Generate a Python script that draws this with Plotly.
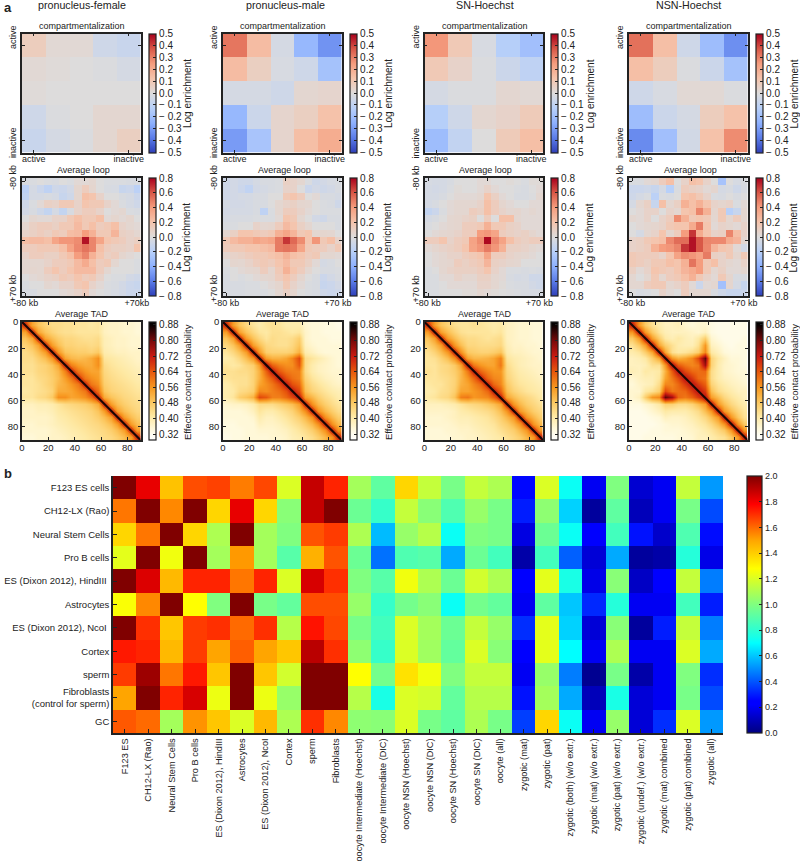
import plotly.graph_objects as go

PANEL_TITLES = ["pronucleus-female", "pronucleus-male", "SN-Hoechst", "NSN-Hoechst"]

COMP_FEMALE = [[.08,.02,.02,-.05,-.07],[.02,.01,0,-.01,-.03],[.01,0,0,0,0],[-.05,-.01,0,.03,.03],[-.07,-.03,-.01,.03,.07]]
COMP_MALE = [[.32,.15,-.03,-.22,-.32],[.15,.07,-.02,-.05,-.18],[-.03,-.03,-.05,.03,.04],[-.22,-.06,.04,.07,.13],[-.30,-.17,.04,.14,.20]]
COMP_SN = [[.26,.10,-.02,-.13,-.19],[.10,.05,-.01,-.06,-.10],[-.03,-.01,-.01,.03,.02],[-.13,-.05,.03,.05,.09],[-.20,-.09,0,.09,.14]]
COMP_NSN = [[.33,.14,-.05,-.2,-.33],[.14,.08,-.01,-.06,-.18],[-.05,-.02,.02,.02,-.01],[-.2,-.06,-.03,.08,.13],[-.34,-.19,-.04,.13,.28]]

LOOP_FEMALE = [
[-.03,-.02,0,-.02,-.03,0,-.02,.03,.03,.05,0,-.02,-.02,-.02,-.03,-.03],
[-.18,-.05,-.1,-.16,-.08,-.1,-.06,.06,.13,.06,0,-.03,-.04,-.12,-.1,-.18],
[-.15,-.05,-.05,-.03,-.05,-.12,-.08,.06,.22,.19,.08,0,0,-.03,-.05,-.1],
[-.08,-.02,.03,.1,.08,.16,.16,.08,.19,.16,.16,.08,.03,-.02,-.05,-.08],
[-.06,-.03,-.08,-.14,-.05,-.14,-.03,.08,.13,.13,.08,0,.03,.05,-.02,-.03],
[0,.05,.03,.03,.08,.08,.16,.22,.16,.16,.22,.03,.06,.03,.06,0],
[.05,.1,.13,.13,.1,.16,.16,.25,.16,.22,.13,.16,.22,.08,.05,.03],
[.08,.1,.13,.1,.16,.13,.23,.25,.4,.3,.16,.16,.28,.1,.08,.05],
[.23,.25,.25,.22,.36,.42,.42,.45,.76,.47,.36,.19,.16,.13,.08,.11],
[.13,.13,.16,.16,.16,.22,.37,.46,.52,.47,.22,.13,.1,.1,.08,.19],
[.08,.13,.13,.1,.1,.16,.22,.4,.47,.3,.19,.1,.13,.06,.03,0],
[.05,.05,.05,.08,.13,.13,.16,.25,.33,.22,.13,.16,.05,0,0,-.02],
[.05,.06,.05,.13,.19,.13,.19,.25,.25,.25,.13,.05,0,0,0,-.02],
[0,.03,.05,.08,.1,.16,.13,.19,.13,.16,.08,0,-.02,-.02,-.06,-.08],
[-.02,0,0,.05,.03,.08,.08,.16,.19,.08,.03,-.02,-.03,-.06,-.1,-.12],
[-.03,-.03,0,0,0,.03,.05,.08,.13,.03,0,-.02,-.04,-.06,-.1,-.1]]
LOOP_MALE = [
[-.08,-.06,-.08,-.08,-.05,-.03,-.03,-.02,.1,.08,.05,-.02,-.08,-.06,-.04,-.03],
[-.08,-.06,-.1,-.15,-.06,-.05,-.03,-.02,.08,.08,0,-.1,-.06,-.08,-.06,-.03],
[-.08,-.06,-.05,-.05,-.03,-.03,0,0,.16,.19,.13,0,.03,-.03,-.03,-.05],
[-.05,-.06,-.06,-.05,-.03,-.03,0,.05,.08,.1,.06,.05,0,-.02,-.03,-.08],
[-.06,-.05,-.05,-.05,-.03,-.16,-.02,.05,.13,.13,.08,.03,0,-.02,-.02,-.02],
[-.05,-.03,-.03,-.03,-.02,-.02,-.02,.03,.19,.16,.05,0,-.06,-.08,-.03,-.03],
[-.03,-.02,0,0,.08,.05,.06,.13,.25,.19,.1,.05,0,0,0,-.03],
[.05,.1,.19,.19,.16,.13,.16,.3,.36,.28,.16,.19,.05,.06,.05,0],
[.16,.25,.3,.3,.36,.33,.36,.5,.68,.55,.45,.19,.42,.16,.22,.08],
[.13,.16,.16,.19,.19,.22,.25,.5,.52,.5,.36,.16,.13,.13,.08,.16],
[.05,.08,.1,.13,.16,.16,.19,.22,.3,.22,.19,.13,.16,.05,.05,.03],
[0,.06,.05,.08,.13,.16,.13,.19,.25,.16,.16,.1,.03,-.05,-.03,0],
[-.02,0,.03,.05,.06,.13,.06,.16,.3,.19,.13,.05,0,-.03,-.03,-.02],
[-.03,0,-.02,0,.03,.05,.06,.13,.19,.13,.06,0,-.03,-.1,-.06,-.03],
[-.03,-.03,-.03,-.02,-.02,0,.03,.06,.16,.08,.03,-.02,-.03,-.12,-.1,-.06],
[-.03,-.03,-.03,-.02,-.02,-.02,0,.05,.1,.06,0,-.02,-.03,-.08,-.1,-.08]]
LOOP_SN = [
[-.04,-.05,-.05,-.03,0,0,0,.03,.03,0,0,.02,0,-.02,.02,.02],
[-.05,-.06,-.05,-.02,.02,0,0,.03,.08,.03,0,0,-.02,-.03,0,.03],
[-.05,-.05,-.03,0,.03,.03,.03,.05,.19,.1,.03,0,-.03,-.03,-.01,.05],
[-.05,-.03,0,.03,.05,.05,.05,.08,.22,.13,.06,.03,0,0,.03,.03],
[-.14,-.1,-.02,.03,.05,.05,.13,.1,.22,.13,.08,.05,.06,.03,.05,.03],
[-.05,-.03,0,.05,.06,.08,.1,0,.13,0,.22,.22,.05,.03,.03,.03],
[-.02,0,.03,.05,.06,.13,.13,.16,.3,.16,.16,.1,.08,.03,.03,.03],
[0,.03,.05,.06,.08,.13,.13,.4,.42,.36,.13,.1,.08,.1,.06,.03],
[.13,.13,.19,.08,.13,.16,.37,.45,.78,.46,.37,.22,.13,.1,.13,.13],
[.03,.06,.08,.1,.13,.19,.36,.42,.5,.42,.3,.1,.1,.08,.05,.03],
[0,.03,.05,.08,.08,.13,.16,.19,.36,.13,.13,.08,.06,.05,.03,0],
[0,.03,.05,.06,.13,.1,.13,.16,.28,.1,.08,.06,.05,0,0,0],
[-.02,0,.05,.08,.1,.1,.1,.13,.19,.08,.03,-.02,-.02,-.03,-.02,-.03],
[-.02,-.02,.03,.03,.08,.05,.05,.1,.1,.05,.03,-.03,-.05,-.04,-.08,-.08],
[-.02,-.02,0,.03,.03,.03,.03,.08,.08,.05,.02,-.02,-.03,-.03,-.06,-.08],
[-.02,-.02,0,0,0,.02,.02,.05,.03,.02,0,-.01,-.02,-.03,-.04,-.04]]
LOOP_NSN = [
[-.02,-.02,.03,.05,.13,.22,0,.08,.22,.19,.08,0,-.28,0,-.04,-.02],
[-.1,-.1,-.08,-.12,-.05,-.2,-.02,.13,.1,.08,.03,.06,-.05,-.03,-.08,-.03],
[-.08,-.05,-.02,-.18,-.02,-.03,0,.19,.22,.16,.08,-.02,-.03,0,-.03,0],
[-.05,.05,.1,-.12,.22,.05,.1,.3,.22,.3,.19,.08,.06,.08,-.02,.03],
[0,.03,.08,.08,0,.08,.05,.19,.22,.47,.3,.06,.16,-.2,-.12,.05],
[.05,.03,.08,0,.08,.13,.45,.3,.16,.19,.16,.05,.16,.05,.13,.05],
[0,.03,.05,.06,.08,.16,.19,.19,.33,.5,.19,.03,.08,.06,.03,.08],
[0,-.05,.05,.08,.19,.06,.13,.4,.68,.33,.19,.08,.1,.47,.23,.08],
[.08,.1,.16,.19,.22,.46,.54,.54,.76,.6,.47,.46,.46,.33,.28,.05],
[.08,.1,.13,.3,.4,.42,.47,.68,.76,.6,.46,.28,.19,.16,.03,-.06],
[.16,.13,.13,.13,.08,.19,.37,.45,.42,.37,.5,.1,.08,.16,.06,.16],
[.16,.13,.1,.16,.16,.22,.19,.3,.52,.4,.16,.22,.08,.05,.03,.08],
[.1,.03,.08,.19,.16,.13,.19,.28,.33,.4,.16,.05,.1,.03,.03,.05],
[.05,0,.05,.16,.05,.13,.16,.22,.3,.16,.08,.03,.16,.06,-.03,-.03],
[.05,.05,.13,.16,.16,.05,.08,.13,.03,-.1,.03,.05,-.3,.06,-.05,-.12],
[0,-.03,-.02,0,.08,.03,0,.13,.05,.05,.05,-.03,-.08,-.12,-.12,-.1]]

TAD_BINS = [2.5,7.5,12.5,17.5,22.5,27.5,32.5,37.5,42.5,47.5,52.5,57.5,62.5,67.5,72.5,77.5,82.5,87.5]
DIAGONAL = [0, 90]
# upper triangles of the symmetric average-TAD maps, read per 5-unit block
TAD_FEMALE = [
[.66,.54,.49,.46,.44,.44,.43,.43,.42,.42,.41,.42,.38,.37,.37,.36,.36,.35],
[.66,.54,.49,.46,.44,.43,.43,.42,.42,.42,.42,.38,.37,.37,.36,.36,.35],
[.66,.54,.50,.47,.45,.45,.44,.43,.43,.44,.39,.38,.37,.37,.36,.36],
[.66,.55,.50,.46,.46,.45,.45,.44,.45,.39,.38,.37,.37,.36,.36],
[.66,.56,.49,.48,.47,.47,.46,.48,.40,.39,.38,.38,.37,.37],
[.66,.54,.51,.50,.51,.53,.57,.42,.41,.40,.39,.38,.37],
[.68,.59,.55,.53,.53,.57,.44,.42,.41,.40,.39,.38],
[.68,.60,.56,.54,.54,.45,.43,.42,.41,.40,.39],
[.68,.60,.57,.55,.46,.44,.43,.42,.41,.40],
[.68,.60,.57,.47,.45,.44,.43,.42,.41],
[.68,.61,.49,.46,.45,.44,.43,.42],
[.68,.53,.49,.47,.45,.44,.43],
[.66,.55,.50,.47,.45,.44],
[.66,.55,.50,.47,.45],
[.66,.55,.50,.47],
[.66,.55,.50],
[.66,.55],
[.68]]
TAD_MALE = [
[.68,.55,.49,.45,.42,.40,.42,.43,.42,.40,.40,.40,.36,.35,.35,.34,.34,.33],
[.68,.55,.49,.45,.42,.41,.43,.43,.42,.41,.42,.37,.35,.35,.34,.34,.34],
[.68,.55,.49,.45,.42,.44,.43,.43,.44,.47,.37,.35,.35,.35,.34,.34],
[.68,.55,.50,.45,.44,.43,.43,.45,.49,.38,.36,.35,.35,.35,.35],
[.68,.56,.47,.46,.46,.46,.47,.52,.40,.38,.36,.35,.35,.35],
[.68,.55,.52,.52,.54,.58,.66,.44,.42,.40,.38,.36,.35],
[.72,.63,.59,.57,.57,.64,.44,.40,.38,.37,.36,.35],
[.72,.64,.60,.59,.59,.44,.40,.38,.37,.36,.36],
[.72,.65,.61,.59,.46,.42,.40,.38,.37,.36],
[.72,.65,.62,.48,.44,.42,.40,.38,.37],
[.72,.66,.50,.46,.44,.42,.40,.39],
[.72,.55,.51,.47,.44,.42,.40],
[.68,.57,.51,.47,.44,.42],
[.68,.57,.51,.47,.44],
[.68,.57,.51,.47],
[.68,.57,.51],
[.68,.57],
[.68]]
TAD_SN = [
[.67,.55,.49,.46,.43,.42,.42,.43,.42,.41,.40,.41,.38,.37,.36,.36,.35,.35],
[.67,.55,.50,.46,.43,.42,.42,.42,.42,.41,.42,.38,.37,.36,.36,.35,.35],
[.67,.55,.50,.46,.44,.44,.43,.42,.43,.44,.38,.37,.36,.36,.35,.35],
[.67,.56,.50,.45,.45,.44,.44,.44,.45,.39,.37,.37,.36,.36,.35],
[.67,.57,.48,.47,.46,.46,.47,.49,.40,.38,.38,.37,.36,.36],
[.67,.54,.51,.51,.52,.54,.59,.42,.40,.39,.38,.37,.36],
[.70,.60,.56,.54,.54,.60,.44,.41,.39,.38,.37,.37],
[.70,.62,.58,.56,.56,.45,.42,.40,.39,.38,.37],
[.70,.62,.58,.57,.46,.43,.41,.40,.39,.38],
[.70,.62,.58,.48,.44,.42,.41,.40,.39],
[.70,.63,.50,.46,.44,.42,.41,.40],
[.70,.54,.50,.47,.45,.43,.41],
[.67,.56,.51,.47,.45,.43],
[.67,.56,.51,.47,.45],
[.67,.56,.51,.47],
[.67,.56,.51],
[.67,.56],
[.70]]
TAD_NSN = [
[.70,.56,.48,.43,.40,.38,.38,.39,.36,.35,.36,.36,.34,.33,.33,.33,.33,.33],
[.70,.56,.48,.42,.39,.38,.38,.38,.37,.36,.38,.34,.33,.33,.33,.33,.33],
[.70,.55,.47,.41,.39,.41,.39,.38,.41,.47,.36,.34,.33,.33,.33,.34],
[.70,.54,.47,.43,.40,.39,.39,.43,.56,.38,.36,.34,.33,.34,.34],
[.70,.54,.43,.41,.42,.44,.47,.58,.41,.38,.35,.34,.34,.34],
[.70,.56,.52,.54,.58,.66,.82,.46,.41,.38,.35,.35,.34],
[.74,.64,.60,.58,.60,.76,.46,.40,.37,.36,.35,.34],
[.74,.66,.62,.61,.62,.44,.40,.37,.36,.35,.35],
[.74,.68,.62,.60,.44,.40,.38,.37,.36,.35],
[.74,.68,.63,.46,.42,.40,.38,.37,.36],
[.74,.68,.50,.44,.42,.40,.38,.38],
[.74,.55,.50,.45,.42,.40,.38],
[.70,.56,.50,.45,.42,.40],
[.70,.56,.50,.45,.42],
[.70,.56,.48,.43],
[.70,.56,.48],
[.70,.56],
[.70]]

ROW_LABELS = ["F123 ES cells", "CH12-LX (Rao)", "Neural Stem Cells", "Pro B cells",
              "ES (Dixon 2012), HindIII\u00a0", "Astrocytes", "ES (Dixon 2012), NcoI\u00a0", "Cortex",
              "sperm", "Fibroblasts<br>(control for sperm)", "GC"]
COL_LABELS = ["F123 ES", "CH12-LX (Rao)", "Neural Stem Cells", "Pro B cells", "ES (Dixon 2012), HindIII",
              "Astrocytes", "ES (Dixon 2012), NcoI", "Cortex", "sperm", "Fibroblasts",
              "oocyte Intermediate (Hoechst)", "oocyte Intermediate (DIC)", "oocyte NSN (Hoechst)",
              "oocyte NSN (DIC)", "oocyte SN (Hoechst)", "oocyte SN (DIC)", "oocyte (all)",
              "zygotic (mat)", "zygotic (pat)", "zygotic (both) (w/o extr.)", "zygotic (mat) (w/o extr.)",
              "zygotic (pat) (w/o extr.)", "zygotic (undef.) (w/o extr.)", "zygotic (mat) combined",
              "zygotic (pat) combined", "zygotic (all)"]
SIMILARITY = [
[2.0,1.82,1.43,1.65,1.67,1.57,1.66,1.2,1.88,1.72,1.08,.92,1.38,1.15,.98,1.15,1.1,.26,1.2,.72,.2,1.0,.14,.2,1.15,.52],
[1.58,2.0,1.55,2.0,1.38,1.82,1.38,1.02,1.88,2.0,.95,.82,1.15,1.02,.88,1.05,.98,.3,1.03,.62,.05,.92,.1,.2,.98,.38],
[1.38,1.58,2.0,1.38,1.1,2.0,1.08,1.0,1.64,1.68,1.1,.58,1.05,1.12,.72,1.0,.98,.17,.95,.72,.22,.85,.28,.13,.88,.27],
[1.22,2.0,1.25,2.0,1.08,1.52,1.08,.9,1.47,1.64,.95,.45,.88,.9,.55,.95,.85,.07,.85,.42,.15,.55,.05,.07,.78,.18],
[2.0,1.84,1.45,1.72,1.72,1.58,1.72,1.2,1.85,1.7,1.0,.9,1.25,1.1,.95,1.18,1.1,.25,1.22,.75,.18,1.02,.12,.22,1.15,.47],
[1.27,1.55,2.0,1.28,1.0,2.0,.98,.93,1.65,1.65,1.05,.82,.97,1.02,.72,.97,.93,.2,.92,.6,.32,.78,.2,.2,.85,.3],
[2.0,1.7,1.42,1.68,1.7,1.6,1.7,1.12,1.75,1.66,.98,.85,1.2,1.08,.95,1.15,1.05,.33,1.22,.62,.15,1.02,.05,.3,1.15,.47],
[1.74,1.72,1.45,1.68,1.5,1.62,1.5,1.42,1.9,1.7,1.03,.82,1.2,1.07,.93,1.2,1.02,.25,1.22,.7,.2,1.1,.2,.2,1.2,.55],
[1.68,1.95,1.58,1.74,1.42,2.0,1.42,1.18,2.0,2.0,1.28,.97,1.35,1.25,1.0,1.15,1.15,.2,1.05,.47,.03,.98,.07,.2,1.0,.33],
[1.5,2.0,1.72,1.85,1.24,2.0,1.24,1.05,2.0,2.0,1.12,.75,1.2,1.18,.93,1.12,1.12,.28,1.08,.55,.1,.75,.15,.2,.98,.38],
[1.63,1.6,1.08,1.53,1.42,1.2,1.45,1.1,1.7,1.55,1.03,1.02,1.2,.98,.92,1.1,.98,.36,1.38,.72,.2,1.05,.15,.33,1.2,.52]]

COMP_TICKS = [-.5,-.4,-.3,-.2,-.1,0,.1,.2,.3,.4,.5]
LOOP_TICKS = [-.8,-.6,-.4,-.2,0,.2,.4,.6,.8]
TAD_TICKS = [.32,.40,.48,.56,.64,.72,.80,.88]
SIM_TICKS = [0,.2,.4,.6,.8,1.0,1.2,1.4,1.6,1.8,2.0]
HIC_X_TEXT = [["-80 kb", "", "+70kb"], ["-80 kb", "", "+70 kb"], ["-80 kb", "", "+70 kb"], ["-80 kb", "", "+70 kb"]]

W, H = 800, 863
FONT = "Liberation Sans"
INK = "#222222"
COOLWARM = [[0, "#2f3fb8"], [.125, "#5b7ce8"], [.25, "#8db0fe"], [.375, "#b8d0f9"], [.5, "#dddcdc"],
            [.625, "#f5c4ac"], [.75, "#f59d7e"], [.875, "#d95847"], [1, "#a8001c"]]
FALL = [[0, "#ffffff"], [.05, "#fffdf0"], [.10, "#fff8d8"], [.20, "#fee9a4"], [.32, "#fcc860"], [.44, "#f89a22"],
        [.575, "#e8590c"], [.71, "#c81a12"], [.84, "#7a0a0a"], [.97, "#0a0000"], [1, "#000000"]]
JET = [[0, "#000080"], [.11, "#0000ff"], [.125, "#0000ff"], [.35, "#00ffff"], [.375, "#19ffe6"], [.5, "#80ff80"],
       [.64, "#ffff00"], [.75, "#ffa500"], [.89, "#ff0000"], [1, "#800000"]]

LEFTS = [22, 223, 424.5, 629]
TITLE_X = [82, 285, 485, 688]
ROWS = [(33.5, 119), (178, 118), (322, 118)]
AX_W = 118.5


def upper_to_full(rows):
    n = len(rows)
    full = [[0.0] * n for _ in range(n)]
    for i, r in enumerate(rows):
        for k, v in enumerate(r):
            full[i][i + k] = v
            full[i + k][i] = v
    return full


def signed(v):
    return ("\u2212 %.1f" % abs(v)) if v < 0 else "%.1f" % v


fig = go.Figure()
layout = dict(width=W, height=H, autosize=False, paper_bgcolor="white", plot_bgcolor="white",
              margin=dict(l=0, r=0, t=0, b=0, autoexpand=False), showlegend=False,
              font=dict(family=FONT, size=10, color=INK))
notes = []
n_ax = [0]


def note(x, y, text, size=10, angle=0, bold=False, xanchor="center"):
    notes.append(dict(x=x / W, y=1 - y / H, xref="paper", yref="paper", text=("<b>%s</b>" % text) if bold else text,
                      showarrow=False, textangle=angle, xanchor=xanchor, yanchor="middle",
                      font=dict(family=FONT, size=size, color=INK)))


def axes(left, top, w, h, xcfg, ycfg, size=9.5):
    n_ax[0] += 1
    k = n_ax[0]
    base = dict(showgrid=False, zeroline=False, showline=True, linecolor=INK, linewidth=1.5, mirror="allticks",
                ticks="inside", ticklen=3, tickwidth=1, tickcolor=INK, tickfont=dict(family=FONT, size=size, color=INK))
    layout["xaxis%d" % k] = dict(base, domain=[left / W, (left + w) / W], anchor="y%d" % k, **xcfg)
    layout["yaxis%d" % k] = dict(base, domain=[1 - (top + h) / H, 1 - top / H], anchor="x%d" % k, **ycfg)
    return "x%d" % k, "y%d" % k


def cbar(left, top, h, thick, vals, text, size=10):
    return dict(x=left / W, xanchor="left", xpad=0, y=1 - top / H, yanchor="top", ypad=0, len=h, lenmode="pixels",
                thickness=thick, thicknessmode="pixels", outlinewidth=1.2, outlinecolor=INK, ticks="inside", ticklen=3,
                tickwidth=.8, tickcolor=INK, tickmode="array", tickvals=vals, ticktext=text,
                tickfont=dict(family=FONT, size=size, color=INK))


COMP = [COMP_FEMALE, COMP_MALE, COMP_SN, COMP_NSN]
LOOP = [LOOP_FEMALE, LOOP_MALE, LOOP_SN, LOOP_NSN]
TAD = [TAD_FEMALE, TAD_MALE, TAD_SN, TAD_NSN]

for c, left in enumerate(LEFTS):
    note(TITLE_X[c], 5, PANEL_TITLES[c], size=10.7)
    cb_left = left + AX_W + 8
    cb_title_x = min(cb_left + 38.5, 793.5)
    # compartmentalization
    top, h = ROWS[0]
    xa, ya = axes(left, top, AX_W, h,
                  dict(range=[-.5, 4.5], tickmode="array", tickvals=[0, 4], ticktext=["active", "inactive"], ticklabelstandoff=-3),
                  dict(range=[4.5, -.5], tickmode="array", tickvals=[0, 4], ticktext=["", ""]), size=9)
    fig.add_trace(go.Heatmap(z=COMP[c], xaxis=xa, yaxis=ya, colorscale=COOLWARM, zmin=-.5, zmax=.5, hoverinfo="skip",
                             colorbar=cbar(cb_left, top, h, 7, COMP_TICKS, [signed(v) for v in COMP_TICKS])))
    note(left + 60, 26, "compartmentalization", size=9)
    note(left - 9, 37, "active", size=9, angle=-90)
    note(left - 9, 143, "inactive", size=9, angle=-90)
    note(cb_title_x, top + h / 2 + 1, "Log enrichment", angle=-90)
    # average loop
    top, h = ROWS[1]
    xa, ya = axes(left, top, AX_W, h,
                  dict(range=[-.5, 15.5], tickmode="array", tickvals=[0, 8, 15], ticktext=HIC_X_TEXT[c], ticklabelstandoff=-3),
                  dict(range=[15.5, -.5], tickmode="array", tickvals=[0, 8, 15], ticktext=["", "", ""]), size=9)
    fig.add_trace(go.Heatmap(z=LOOP[c], xaxis=xa, yaxis=ya, colorscale=COOLWARM, zmin=-.8, zmax=.8, hoverinfo="skip",
                             colorbar=cbar(cb_left, top, h, 7, LOOP_TICKS, [signed(v) for v in LOOP_TICKS])))
    note(left + 61, 170, "Average loop", size=9)
    note(left - 9, 178, "-80 kb", size=9, angle=-90)
    note(left - 9, 289, "+70 kb", size=9, angle=-90)
    note(cb_title_x, top + h / 2 + 1, "Log enrichment", angle=-90)
    # average TAD
    top, h = ROWS[2]
    xa, ya = axes(left, top, AX_W, h,
                  dict(range=[0, 90], tickmode="array", tickvals=[0, 20, 40, 60, 80], ticklabelstandoff=-2),
                  dict(range=[90, 0], tickmode="array", tickvals=[0, 20, 40, 60, 80]))
    fig.add_trace(go.Heatmap(z=upper_to_full(TAD[c]), x=TAD_BINS, y=TAD_BINS, xaxis=xa, yaxis=ya, colorscale=FALL,
                             zmin=.29, zmax=.895, zsmooth="best", hoverinfo="skip",
                             colorbar=cbar(cb_left, top, h, 7, TAD_TICKS, ["%.2f" % v for v in TAD_TICKS])))
    fig.add_trace(go.Scatter(x=DIAGONAL, y=DIAGONAL, xaxis=xa, yaxis=ya, mode="lines", hoverinfo="skip",
                             line=dict(color="rgba(200,40,15,0.45)", width=5.5)))
    fig.add_trace(go.Scatter(x=DIAGONAL, y=DIAGONAL, xaxis=xa, yaxis=ya, mode="lines", hoverinfo="skip",
                             line=dict(color="#1c0404", width=2.2)))
    note(left + 60, 314, "Average TAD", size=9)
    note(cb_title_x, top + h / 2 + 1, "Effective contact probability", size=9.5, angle=-90)

# panel b
xa, ya = axes(113, 476, 610, 257,
              dict(tickangle=-90, tickmode="array", tickvals=COL_LABELS, ticktext=COL_LABELS, mirror=False, type="category", ticklen=4,
                   tickfont=dict(family=FONT, size=9.2, color=INK)),
              dict(autorange="reversed", tickmode="array", tickvals=ROW_LABELS, ticktext=ROW_LABELS, mirror=False, type="category", ticklen=4))
fig.add_trace(go.Heatmap(z=SIMILARITY, x=COL_LABELS, y=ROW_LABELS, xaxis=xa, yaxis=ya, colorscale=JET, zmin=0, zmax=2,
                         hoverinfo="skip", colorbar=cbar(747, 476, 257, 15, SIM_TICKS, ["%.1f" % v for v in SIM_TICKS], size=9)))

note(2, 7, "a", size=13, bold=True, xanchor="left")
note(2, 473, "b", size=13, bold=True, xanchor="left")
layout["annotations"] = notes
fig.update_layout(**layout)
fig.write_html("out.html", config={"displayModeBar": False},
               post_script="document.body.style.margin='0';document.body.style.overflow='hidden';")
